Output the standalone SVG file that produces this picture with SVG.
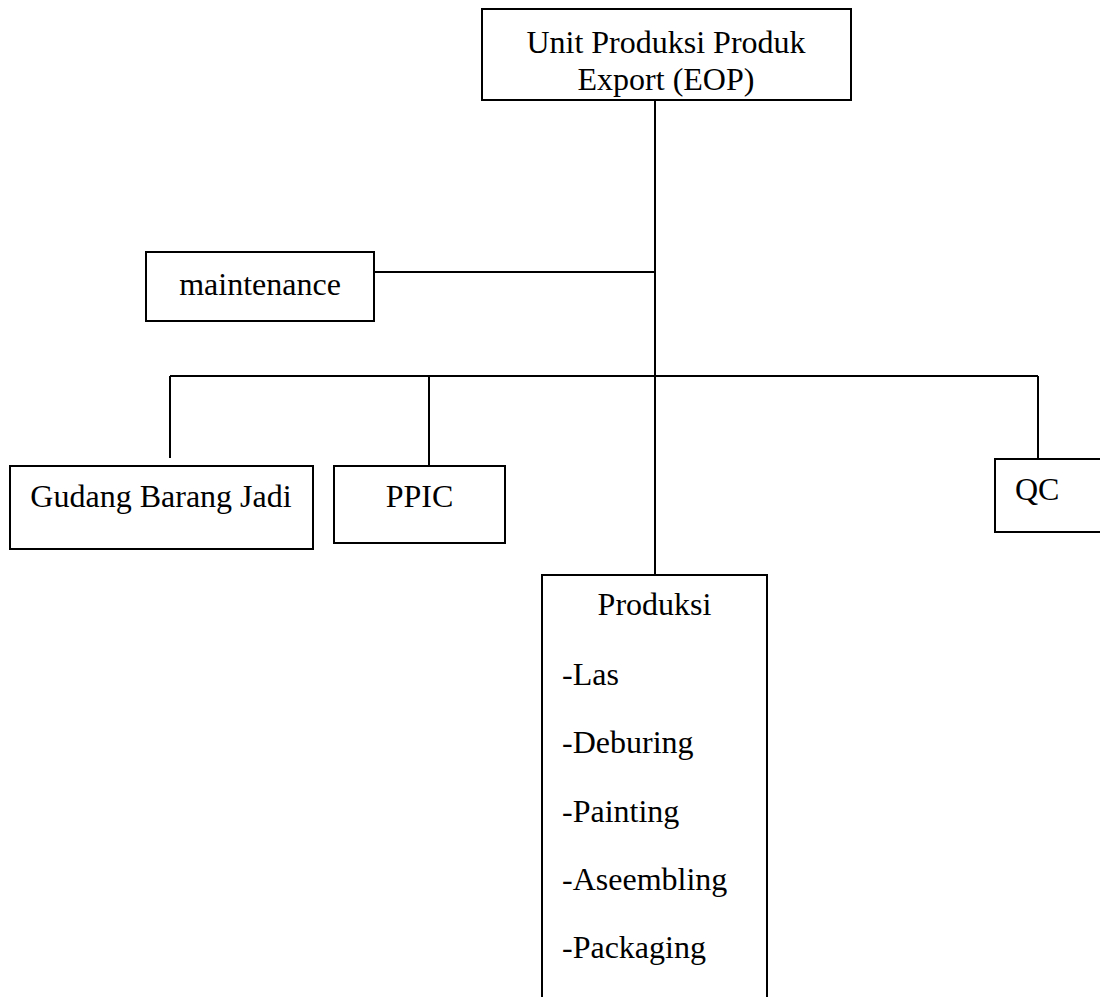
<svg xmlns="http://www.w3.org/2000/svg" width="1100" height="997" viewBox="0 0 1100 997">
  <style>
    .box { fill: #ffffff; stroke: #000000; stroke-width: 2; }
    .line { fill: none; stroke: #000000; stroke-width: 2; }
    .label { font-family: "Liberation Serif", "Times New Roman", serif; font-size: 32px; fill: #000000; }
    .mid { text-anchor: middle; }
  </style>
  <rect width="1100" height="997" fill="#ffffff"/>

  <!-- connectors -->
  <g id="connectors">
    <line class="line" x1="655" y1="100" x2="655" y2="575"/>
    <line class="line" x1="374" y1="272" x2="655" y2="272"/>
    <line class="line" x1="170" y1="376" x2="1038" y2="376"/>
    <line class="line" x1="170" y1="376" x2="170" y2="458"/>
    <line class="line" x1="429" y1="376" x2="429" y2="466"/>
    <line class="line" x1="1038" y1="376" x2="1038" y2="459"/>
  </g>

  <g id="node-eop">
    <rect class="box" x="482" y="9" width="369" height="91"/>
    <text class="label mid" x="666" y="53">Unit Produksi Produk</text>
    <text class="label mid" x="666" y="90">Export (EOP)</text>
  </g>

  <g id="node-maintenance">
    <rect class="box" x="146" y="252" width="228" height="69"/>
    <text class="label mid" x="260" y="295">maintenance</text>
  </g>

  <g id="node-gudang">
    <rect class="box" x="10" y="466" width="303" height="83"/>
    <text class="label mid" x="161" y="507">Gudang Barang Jadi</text>
  </g>

  <g id="node-ppic">
    <rect class="box" x="334" y="466" width="171" height="77"/>
    <text class="label mid" x="419.5" y="507">PPIC</text>
  </g>

  <g id="node-qc">
    <rect class="box" x="995" y="459" width="120" height="73"/>
    <text class="label" x="1015" y="500">QC</text>
  </g>

  <g id="node-produksi">
    <path class="line" d="M542 1000 V575 H767 V1000"/>
    <text class="label mid" x="654.5" y="615">Produksi</text>
    <text class="label" x="562" y="685">-Las</text>
    <text class="label" x="562" y="753">-Deburing</text>
    <text class="label" x="562" y="822">-Painting</text>
    <text class="label" x="562" y="890">-Aseembling</text>
    <text class="label" x="562" y="958">-Packaging</text>
  </g>
</svg>
